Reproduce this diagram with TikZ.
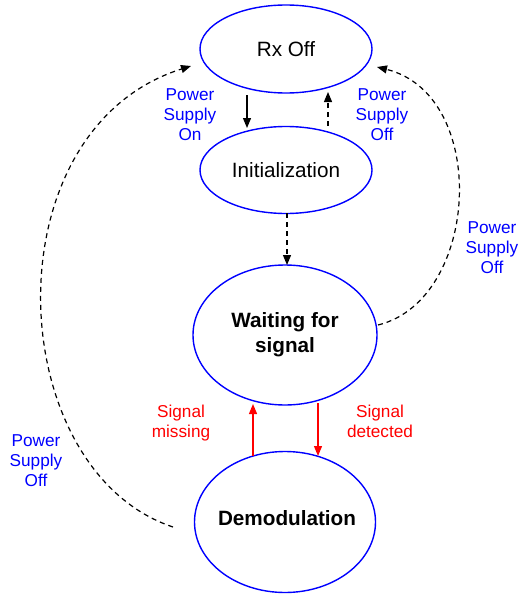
\documentclass[tikz,border=0pt]{standalone}
\usepackage{fontspec}
\setmainfont{Liberation Sans}
\usetikzlibrary{shapes.geometric,arrows.meta}
\definecolor{stblue}{RGB}{0,0,255}
\definecolor{stred}{RGB}{255,0,0}
\tikzset{
  state/.style={draw=stblue,line width=1.4pt,ellipse,inner sep=0pt,fill=white,
    font=\fontsize{20.7}{24}\selectfont,align=center},
  lbl/.style={text=stblue,font=\fontsize{17.2}{20}\selectfont,align=center,inner sep=0pt},
  rlbl/.style={text=stred,font=\fontsize{17.2}{20}\selectfont,align=center,inner sep=0pt},
  tip/.style={-{Triangle[length=10pt,width=8pt]}},
  solidarr/.style={tip,line width=1.2pt,draw=black},
  dasharr/.style={tip,line width=1.2pt,draw=black,dash pattern=on 5pt off 4pt},
  redarr/.style={tip,line width=1.2pt,draw=stred,fill=stred},
}
\begin{document}
\begin{tikzpicture}[x=1pt,y=-1pt]
\useasboundingbox (0,0) rectangle (519,594);
\node[state,minimum width=172pt,minimum height=88pt] (rx) at (286,49) {Rx Off};
\node[state,minimum width=172pt,minimum height=87pt] (init) at (286,170) {Initialization};
\node[state,minimum width=184pt,minimum height=140pt,font=\fontsize{20.7}{25}\selectfont\bfseries] (wait) at (285,335) {Waiting for\\signal};
\node[state,minimum width=181pt,minimum height=141pt,font=\fontsize{20.7}{24}\selectfont\bfseries] (demod) at (285,522) {};
\node[font=\fontsize{20.7}{24}\selectfont\bfseries,inner sep=0pt] (demodtxt) at (287,518) {Demodulation};

\coordinate (on1) at (247,95);
\coordinate (on2) at (247,128);
\coordinate (off1) at (328,126);
\coordinate (off2) at (328,92);
\coordinate (w1) at (287,213);
\coordinate (w2) at (287,265);
\coordinate (sm1) at (253,456);
\coordinate (sm2) at (253,404);
\coordinate (sd1) at (318,403);
\coordinate (sd2) at (318,456);
\coordinate (ls) at (173,527);
\coordinate (le) at (191,66);
\coordinate (rs) at (378,325);
\coordinate (re) at (377,67);

\draw[solidarr] (on1) -- (on2);
\draw[dasharr] (off1) -- (off2);
\draw[dasharr] (w1) -- (w2);
\draw[redarr] (sm1) -- (sm2);
\draw[redarr] (sd1) -- (sd2);
\draw[dasharr] (ls) .. controls (2,470) and (-12,130) .. (le);
\draw[dasharr] (rs) .. controls (480,300) and (490,95) .. (re);

\node[lbl] (l1) at (190,115) {Power\\Supply\\On};
\node[lbl] (l2) at (382,115) {Power\\Supply\\Off};
\node[lbl] (l3) at (492,248) {Power\\Supply\\Off};
\node[lbl] (l4) at (36,461) {Power\\Supply\\Off};
\node[rlbl] (l5) at (181,423) {Signal\\missing};
\node[rlbl] (l6) at (380,421) {Signal\\detected};
\end{tikzpicture}
\end{document}
